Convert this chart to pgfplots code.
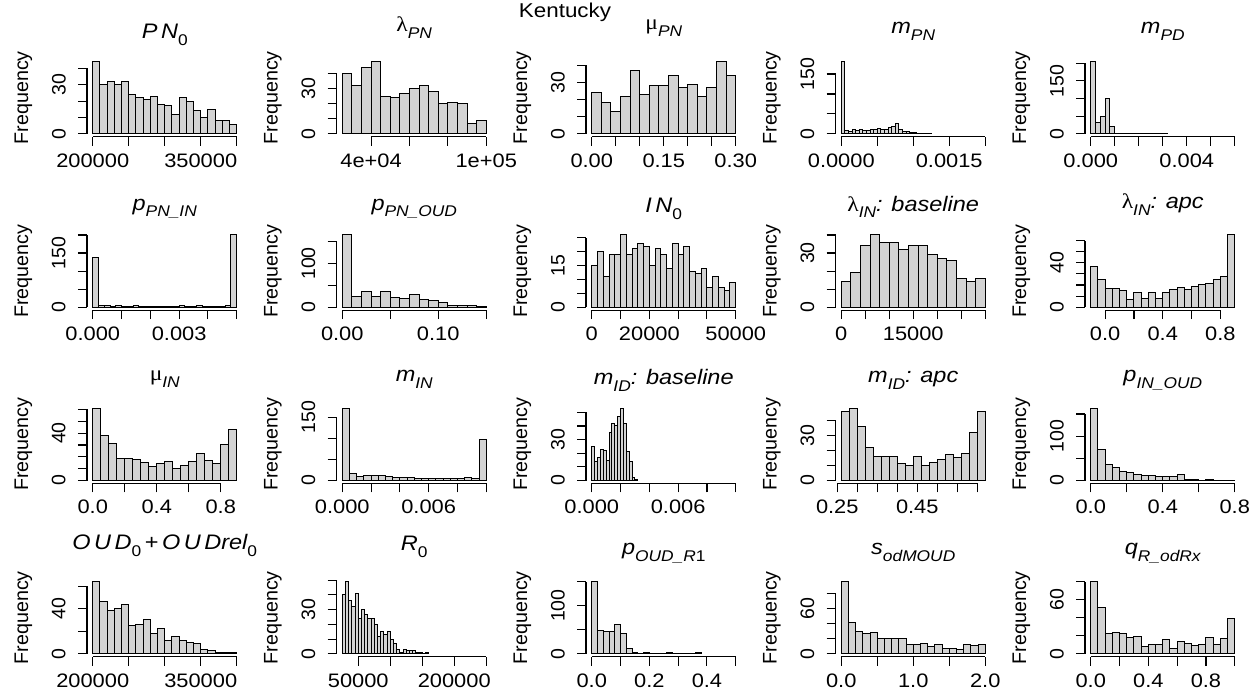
\documentclass[border=0pt]{standalone}
\usepackage{fontspec}
\setmainfont{Liberation Sans}[FakeStretch=1.12]
\newfontfamily\rotfont{Liberation Sans}
\newfontfamily\grkfont{Liberation Serif}[FakeStretch=1.12]
\usepackage{pgfplots}
\pgfplotsset{compat=1.18}
\definecolor{barfill}{RGB}{211,211,211}
\newcommand{\tickfont}{\fontsize{19.5}{22}\selectfont}
\newcommand{\rottickfont}{\rotfont\fontsize{19.5}{22}\selectfont}
\newcommand{\ttlfont}{\fontsize{21}{24}\selectfont\itshape}
\newcommand{\sub}[1]{\raisebox{-0.32em}{\fontsize{15.5}{17}\selectfont #1}}
\newcommand{\grk}[1]{{\grkfont\upshape #1}}
\tikzset{rax/.style={black, line width=1.1pt}}
\pgfplotsset{
  hist/.style={
    scale only axis, width=155.5pt, height=78pt, anchor=south west,
    axis line style={draw=none},
    xtick pos=left, ytick pos=left, tick align=outside,
    major tick length=9pt,
    tick style={black, line width=1.1pt},
    clip=false, enlargelimits=false, scaled ticks=false,
    xticklabel style={font=\tickfont, anchor=base, yshift=-21.5pt, inner sep=0pt},
    yticklabel style={font=\rottickfont, xshift=-12.5pt, rotate=90, anchor=base, inner sep=0pt},
    ylabel={Frequency},
    every axis y label/.style={at={(axis description cs:0,0.5)}, xshift=-63.7pt, rotate=90, anchor=center, font=\rotfont\fontsize{19.7}{22}\selectfont},
    every axis title/.style={at={(axis description cs:0.5,1)}, anchor=base, font=\ttlfont, inner sep=0pt},
  },
  bars/.style={ybar, bar shift=0pt, fill=barfill, draw=black, line width=1pt},
}
\begin{document}
\begin{tikzpicture}[x=1pt,y=1pt]
\useasboundingbox (0,0) rectangle (1260,700);
\node[font=\fontsize{20}{22}\selectfont, anchor=base] at (565,682.5) {Kentucky};
% ---------------- Row 1 ----------------
\begin{axis}[hist, at={(87pt,563.2pt)}, xmin=192000, xmax=408000, ymin=-1.76, ymax=45.76,
 xtick={200000,250000,300000,350000,400000}, xticklabels={200000,,,350000,},
 ytick={0,10,20,30,40}, yticklabels={0,,,30,},
 title={P\,N\sub{\upshape 0}}, title style={yshift=19.8pt}]
\addplot[bars, bar width=10000] coordinates {(205000,44) (215000,30) (225000,32) (235000,30) (245000,32) (255000,24) (265000,22) (275000,21) (285000,23) (295000,18) (305000,17) (315000,12) (325000,22) (335000,20) (345000,14) (355000,10) (365000,15) (375000,8) (385000,8) (395000,6)};
\draw[rax] (axis cs:200000,-1.76) -- (axis cs:400000,-1.76);
\draw[rax] (axis cs:192000,0) -- (axis cs:192000,40);
\end{axis}
\begin{axis}[hist, at={(336.5pt,563.2pt)}, xmin=22000, xmax=103000, ymin=-1.92, ymax=49.92,
 xtick={40000,60000,80000,100000}, xticklabels={4e+04,,,1e+05},
 ytick={0,10,20,30,40}, yticklabels={0,,,30,},
 title={\grk{λ}\sub{PN}}, title style={yshift=27pt}]
\addplot[bars, bar width=5000] coordinates {(27500,40) (32500,32) (37500,44) (42500,48) (47500,25) (52500,24) (57500,27) (62500,30) (67500,32) (72500,28) (77500,20) (82500,21) (87500,20) (92500,7) (97500,9)};
\draw[rax] (axis cs:40000,-1.92) -- (axis cs:100000,-1.92);
\draw[rax] (axis cs:22000,0) -- (axis cs:22000,40);
\end{axis}
\begin{axis}[hist, at={(586pt,563.2pt)}, xmin=-0.012, xmax=0.312, ymin=-1.68, ymax=43.68,
 xtick={0,0.05,0.10,0.15,0.20,0.25,0.30}, xticklabels={0.00,,,0.15,,,0.30},
 ytick={0,10,20,30,40}, yticklabels={0,,,30,},
 title={\grk{μ}\sub{PN}}, title style={yshift=28.8pt}]
\addplot[bars, bar width=0.02] coordinates {(0.01,24) (0.03,18) (0.05,13) (0.07,22) (0.09,37) (0.11,23) (0.13,28) (0.15,28) (0.17,34) (0.19,27) (0.21,29) (0.23,22) (0.25,27) (0.27,42) (0.29,34)};
\draw[rax] (axis cs:0,-1.68) -- (axis cs:0.30,-1.68);
\draw[rax] (axis cs:-0.012,0) -- (axis cs:-0.012,40);
\end{axis}
\begin{axis}[hist, at={(835.5pt,563.2pt)}, xmin=-0.00008, xmax=0.00208, ymin=-7.24, ymax=188.24,
 xtick={0,0.0005,0.001,0.0015,0.002}, xticklabels={0.0000,,,0.0015,},
 ytick={0,50,100,150}, yticklabels={0,,,150},
 title={m\sub{PN}}, title style={yshift=25.5pt}]
\addplot[bars, bar width=0.00005] coordinates {(0.000025,181) (0.000075,8) (0.000125,7) (0.000175,10) (0.000225,8) (0.000275,11) (0.000325,9) (0.000375,9) (0.000425,12) (0.000475,10) (0.000525,13) (0.000575,12) (0.000625,11) (0.000675,15) (0.000725,18) (0.000775,26) (0.000825,12) (0.000875,7) (0.000925,5) (0.000975,4) (0.001025,3) (0.001075,2) (0.001125,2) (0.001175,1) (0.001225,1)};
\draw[rax] (axis cs:0,-7.24) -- (axis cs:0.002,-7.24);
\draw[rax] (axis cs:-0.00008,0) -- (axis cs:-0.00008,150);
\end{axis}
\begin{axis}[hist, at={(1085pt,563.2pt)}, xmin=-0.00024, xmax=0.00624, ymin=-8.16, ymax=212.16,
 xtick={0,0.001,0.002,0.003,0.004,0.005,0.006}, xticklabels={0.000,,,,0.004,,},
 ytick={0,50,100,150,200}, yticklabels={0,,,150,},
 title={m\sub{PD}}, title style={yshift=25.5pt}]
\addplot[bars, bar width=0.0002] coordinates {(0.0001,204) (0.0003,33) (0.0005,48) (0.0007,101) (0.0009,22) (0.0011,2) (0.0013,1) (0.0015,0) (0.0017,0) (0.0019,0) (0.0021,0) (0.0023,1) (0.0025,0) (0.0027,0) (0.0029,0) (0.0031,2)};
\draw[rax] (axis cs:0,-8.16) -- (axis cs:0.006,-8.16);
\draw[rax] (axis cs:-0.00024,0) -- (axis cs:-0.00024,200);
\end{axis}
% ---------------- Row 2 ----------------
\begin{axis}[hist, at={(87pt,389.9pt)}, xmin=-0.0002, xmax=0.0052, ymin=-8, ymax=208,
 xtick={0,0.001,0.002,0.003,0.004,0.005}, xticklabels={0.000,,,0.003,,},
 ytick={0,50,100,150,200}, yticklabels={0,,,150,},
 title={p\sub{PN\_IN}}, title style={yshift=22pt}]
\addplot[bars, bar width=0.0002] coordinates {(0.0001,138) (0.0003,6) (0.0005,5) (0.0007,2) (0.0009,4) (0.0011,2) (0.0013,2) (0.0015,4) (0.0017,3) (0.0019,2) (0.0021,2) (0.0023,3) (0.0025,2) (0.0027,3) (0.0029,1) (0.0031,4) (0.0033,1) (0.0035,2) (0.0037,4) (0.0039,2) (0.0041,3) (0.0043,3) (0.0045,3) (0.0047,6) (0.0049,200)};
\draw[rax] (axis cs:0,-8) -- (axis cs:0.005,-8);
\draw[rax] (axis cs:-0.0002,0) -- (axis cs:-0.0002,200);
\end{axis}
\begin{axis}[hist, at={(336.5pt,389.9pt)}, xmin=-0.006, xmax=0.156, ymin=-6.6, ymax=171.6,
 xtick={0,0.05,0.10,0.15}, xticklabels={0.00,,0.10,},
 ytick={0,50,100,150}, yticklabels={0,,100,},
 title={p\sub{PN\_OUD}}, title style={yshift=22pt}]
\addplot[bars, bar width=0.01] coordinates {(0.005,165) (0.015,25) (0.025,36) (0.035,25) (0.045,36) (0.055,23) (0.065,21) (0.075,30) (0.085,17) (0.095,15) (0.105,10) (0.115,5) (0.125,4) (0.135,3) (0.145,2)};
\draw[rax] (axis cs:0,-6.6) -- (axis cs:0.15,-6.6);
\draw[rax] (axis cs:-0.006,0) -- (axis cs:-0.006,150);
\end{axis}
\begin{axis}[hist, at={(586pt,389.9pt)}, xmin=-2000, xmax=52000, ymin=-1.04, ymax=27.04,
 xtick={0,10000,20000,30000,40000,50000}, xticklabels={0,,20000,,,50000},
 ytick={0,5,10,15,20,25}, yticklabels={0,,,15,,},
 title={I\,N\sub{\upshape 0}}, title style={yshift=19.4pt}]
\addplot[bars, bar width=2000] coordinates {(1000,15) (3000,20) (5000,11) (7000,19) (9000,19) (11000,26) (13000,19) (15000,21) (17000,23) (19000,22) (21000,15) (23000,21) (25000,19) (27000,14) (29000,23) (31000,19) (33000,22) (35000,13) (37000,12) (39000,14) (41000,7) (43000,11) (45000,7) (47000,6) (49000,9)};
\draw[rax] (axis cs:0,-1.04) -- (axis cs:50000,-1.04);
\draw[rax] (axis cs:-2000,0) -- (axis cs:-2000,25);
\end{axis}
\begin{axis}[hist, at={(835.5pt,389.9pt)}, xmin=-1200, xmax=31200, ymin=-1.6, ymax=41.6,
 xtick={0,5000,10000,15000,20000,25000,30000}, xticklabels={0,,,15000,,,},
 ytick={0,10,20,30,40}, yticklabels={0,,,30,},
 title={\grk{λ}\sub{IN}: baseline}, title style={yshift=21pt}]
\addplot[bars, bar width=2000] coordinates {(1000,14) (3000,19) (5000,34) (7000,40) (9000,36) (11000,36) (13000,32) (15000,34) (17000,34) (19000,29) (21000,27) (23000,26) (25000,16) (27000,14) (29000,16)};
\draw[rax] (axis cs:0,-1.6) -- (axis cs:30000,-1.6);
\draw[rax] (axis cs:-1200,0) -- (axis cs:-1200,40);
\end{axis}
\begin{axis}[hist, at={(1085pt,389.9pt)}, xmin=-0.14, xmax=0.94, ymin=-2.6, ymax=67.6,
 xtick={0,0.2,0.4,0.6,0.8}, xticklabels={0.0,,0.4,,0.8},
 ytick={0,10,20,30,40,50,60}, yticklabels={0,,,,40,,},
 title={\grk{λ}\sub{IN}: apc}, title style={yshift=23.8pt}]
\addplot[bars, bar width=0.05] coordinates {(-0.075,37) (-0.025,25) (0.025,17) (0.075,17) (0.125,15) (0.175,7) (0.225,13) (0.275,8) (0.325,13) (0.375,8) (0.425,13) (0.475,16) (0.525,18) (0.575,16) (0.625,19) (0.675,20) (0.725,21) (0.775,25) (0.825,28) (0.875,65)};
\draw[rax] (axis cs:0,-2.6) -- (axis cs:0.8,-2.6);
\draw[rax] (axis cs:-0.14,0) -- (axis cs:-0.14,60);
\end{axis}
% ---------------- Row 3 ----------------
\begin{axis}[hist, at={(87pt,216.6pt)}, xmin=-0.036, xmax=0.936, ymin=-2.44, ymax=63.44,
 xtick={0,0.2,0.4,0.6,0.8}, xticklabels={0.0,,0.4,,0.8},
 ytick={0,10,20,30,40,50,60}, yticklabels={0,,,,40,,},
 title={\grk{μ}\sub{IN}}, title style={yshift=24.7pt}]
\addplot[bars, bar width=0.05] coordinates {(0.025,61) (0.075,38) (0.125,31) (0.175,19) (0.225,19) (0.275,18) (0.325,15) (0.375,12) (0.425,14) (0.475,16) (0.525,10) (0.575,13) (0.625,16) (0.675,23) (0.725,17) (0.775,14) (0.825,30) (0.875,43)};
\draw[rax] (axis cs:0,-2.44) -- (axis cs:0.8,-2.44);
\draw[rax] (axis cs:-0.036,0) -- (axis cs:-0.036,60);
\end{axis}
\begin{axis}[hist, at={(336.5pt,216.6pt)}, xmin=-0.0004, xmax=0.0104, ymin=-6.84, ymax=177.84,
 xtick={0,0.002,0.004,0.006,0.008,0.010}, xticklabels={0.000,,,0.006,,},
 ytick={0,50,100,150}, yticklabels={0,,,150},
 title={m\sub{IN}}, title style={yshift=23.7pt}]
\addplot[bars, bar width=0.0005] coordinates {(0.00025,171) (0.00075,16) (0.00125,9) (0.00175,11) (0.00225,12) (0.00275,11) (0.00325,10) (0.00375,6) (0.00425,8) (0.00475,6) (0.00525,5) (0.00575,5) (0.00625,4) (0.00675,5) (0.00725,4) (0.00775,5) (0.00825,4) (0.00875,6) (0.00925,4) (0.00975,97)};
\draw[rax] (axis cs:0,-6.84) -- (axis cs:0.010,-6.84);
\draw[rax] (axis cs:-0.0004,0) -- (axis cs:-0.0004,150);
\end{axis}
\begin{axis}[hist, at={(586pt,216.6pt)}, xmin=-0.0004, xmax=0.0104, ymin=-2.12, ymax=55.12,
 xtick={0,0.002,0.004,0.006,0.008,0.010}, xticklabels={0.000,,,0.006,,},
 ytick={0,10,20,30,40,50}, yticklabels={0,,,30,,},
 title={m\sub{ID}: baseline}, title style={yshift=21pt}]
\addplot[bars, bar width=0.0002] coordinates {(0.0001,25) (0.0003,14) (0.0005,17) (0.0007,23) (0.0009,22) (0.0011,15) (0.0013,35) (0.0015,42) (0.0017,40) (0.0019,47) (0.0021,53) (0.0023,42) (0.0025,21) (0.0027,14) (0.0029,2) (0.0031,1)};
\draw[rax] (axis cs:0,-2.12) -- (axis cs:0.010,-2.12);
\draw[rax] (axis cs:-0.0004,0) -- (axis cs:-0.0004,50);
\end{axis}
\begin{axis}[hist, at={(835.5pt,216.6pt)}, xmin=0.2456, xmax=0.6344, ymin=-1.92, ymax=49.92,
 xtick={0.25,0.30,0.35,0.40,0.45,0.50,0.55,0.60}, xticklabels={0.25,,,,0.45,,,},
 ytick={0,10,20,30,40}, yticklabels={0,,,30,},
 title={m\sub{ID}: apc}, title style={yshift=23pt}]
\addplot[bars, bar width=0.02] coordinates {(0.27,46) (0.29,48) (0.31,36) (0.33,22) (0.35,16) (0.37,16) (0.39,16) (0.41,11) (0.43,10) (0.45,16) (0.47,10) (0.49,12) (0.51,14) (0.53,17) (0.55,15) (0.57,18) (0.59,32) (0.61,46)};
\draw[rax] (axis cs:0.25,-1.92) -- (axis cs:0.60,-1.92);
\draw[rax] (axis cs:0.2456,0) -- (axis cs:0.2456,40);
\end{axis}
\begin{axis}[hist, at={(1085pt,216.6pt)}, xmin=-0.032, xmax=0.832, ymin=-6.52, ymax=169.52,
 xtick={0,0.2,0.4,0.6,0.8}, xticklabels={0.0,,0.4,,0.8},
 ytick={0,50,100,150}, yticklabels={0,,100,},
 title={p\sub{IN\_OUD}}, title style={yshift=23.7pt}]
\addplot[bars, bar width=0.04] coordinates {(0.02,163) (0.06,70) (0.10,36) (0.14,30) (0.18,20) (0.22,18) (0.26,14) (0.30,11) (0.34,11) (0.38,10) (0.42,10) (0.46,8) (0.50,14) (0.54,3) (0.58,3) (0.62,1) (0.66,2) (0.70,1) (0.74,1) (0.78,0)};
\draw[rax] (axis cs:0,-6.52) -- (axis cs:0.8,-6.52);
\draw[rax] (axis cs:-0.032,0) -- (axis cs:-0.032,150);
\end{axis}
% ---------------- Row 4 ----------------
\begin{axis}[hist, at={(87pt,43.3pt)}, xmin=192000, xmax=408000, ymin=-2.56, ymax=66.56,
 xtick={200000,250000,300000,350000,400000}, xticklabels={200000,,,350000,},
 ytick={0,20,40,60}, yticklabels={0,,40,},
 title={O\,U\,D\sub{\upshape 0}{\upshape\,+\,}O\,U\,Drel\sub{\upshape 0}}, title style={yshift=28.8pt}]
\addplot[bars, bar width=10000] coordinates {(205000,64) (215000,46) (225000,38) (235000,40) (245000,44) (255000,25) (265000,26) (275000,30) (285000,18) (295000,22) (305000,12) (315000,15) (325000,12) (335000,10) (345000,9) (355000,4) (365000,3) (375000,1) (385000,1) (395000,1)};
\draw[rax] (axis cs:200000,-2.56) -- (axis cs:400000,-2.56);
\draw[rax] (axis cs:192000,0) -- (axis cs:192000,60);
\end{axis}
\begin{axis}[hist, at={(336.5pt,43.3pt)}, xmin=16000, xmax=259000, ymin=-1.96, ymax=50.96,
 xtick={50000,100000,150000,200000,250000}, xticklabels={50000,,,200000,},
 ytick={0,10,20,30,40,50}, yticklabels={0,,,30,,},
 title={R\sub{\upshape 0}}, title style={yshift=27.8pt}]
\addplot[bars, bar width=5000] coordinates {(27500,40) (32500,49) (37500,36) (42500,32) (47500,41) (52500,24) (57500,30) (62500,27) (67500,24) (72500,24) (77500,20) (82500,12) (87500,15) (92500,13) (97500,15) (102500,10) (107500,7) (112500,3) (117500,1) (122500,3) (127500,2) (132500,2) (137500,2) (142500,1) (147500,1) (152500,0) (157500,1)};
\draw[rax] (axis cs:50000,-1.96) -- (axis cs:250000,-1.96);
\draw[rax] (axis cs:16000,0) -- (axis cs:16000,50);
\end{axis}
\begin{axis}[hist, at={(586pt,43.3pt)}, xmin=-0.02, xmax=0.52, ymin=-6, ymax=156,
 xtick={0,0.1,0.2,0.3,0.4,0.5}, xticklabels={0.0,,0.2,,0.4,},
 ytick={0,50,100,150}, yticklabels={0,,100,},
 title={p\sub{OUD\_R{\upshape 1}}}, title style={yshift=23.8pt}]
\addplot[bars, bar width=0.02] coordinates {(0.01,150) (0.03,48) (0.05,47) (0.07,46) (0.09,60) (0.11,43) (0.13,10) (0.15,3) (0.17,1) (0.19,2) (0.21,1) (0.23,1) (0.25,0) (0.27,2) (0.29,1) (0.31,0) (0.33,1) (0.35,0) (0.37,3)};
\draw[rax] (axis cs:0,-6) -- (axis cs:0.5,-6);
\draw[rax] (axis cs:-0.02,0) -- (axis cs:-0.02,150);
\end{axis}
\begin{axis}[hist, at={(835.5pt,43.3pt)}, xmin=-0.08, xmax=2.08, ymin=-3.84, ymax=99.84,
 xtick={0,0.5,1.0,1.5,2.0}, xticklabels={0.0,,1.0,,2.0},
 ytick={0,20,40,60,80}, yticklabels={0,,,60,},
 title={s\sub{odMOUD}}, title style={yshift=23.8pt}]
\addplot[bars, bar width=0.1] coordinates {(0.05,96) (0.15,41) (0.25,30) (0.35,27) (0.45,28) (0.55,21) (0.65,20) (0.75,20) (0.85,21) (0.95,12) (1.05,13) (1.15,14) (1.25,10) (1.35,13) (1.45,7) (1.55,7) (1.65,6) (1.75,13) (1.85,11) (1.95,13)};
\draw[rax] (axis cs:0,-3.84) -- (axis cs:2,-3.84);
\draw[rax] (axis cs:-0.08,0) -- (axis cs:-0.08,80);
\end{axis}
\begin{axis}[hist, at={(1085pt,43.3pt)}, xmin=-0.04, xmax=1.04, ymin=-3.2, ymax=83.2,
 xtick={0,0.2,0.4,0.6,0.8,1.0}, xticklabels={0.0,,0.4,,0.8,},
 ytick={0,20,40,60,80}, yticklabels={0,,,60,},
 title={q\sub{R\_odRx}}, title style={yshift=23.8pt}]
\addplot[bars, bar width=0.05] coordinates {(0.025,80) (0.075,51) (0.125,22) (0.175,24) (0.225,23) (0.275,18) (0.325,19) (0.375,8) (0.425,10) (0.475,10) (0.525,16) (0.575,6) (0.625,14) (0.675,11) (0.725,9) (0.775,10) (0.825,18) (0.875,10) (0.925,17) (0.975,39)};
\draw[rax] (axis cs:0,-3.2) -- (axis cs:1,-3.2);
\draw[rax] (axis cs:-0.04,0) -- (axis cs:-0.04,80);
\end{axis}
\end{tikzpicture}
\end{document}
